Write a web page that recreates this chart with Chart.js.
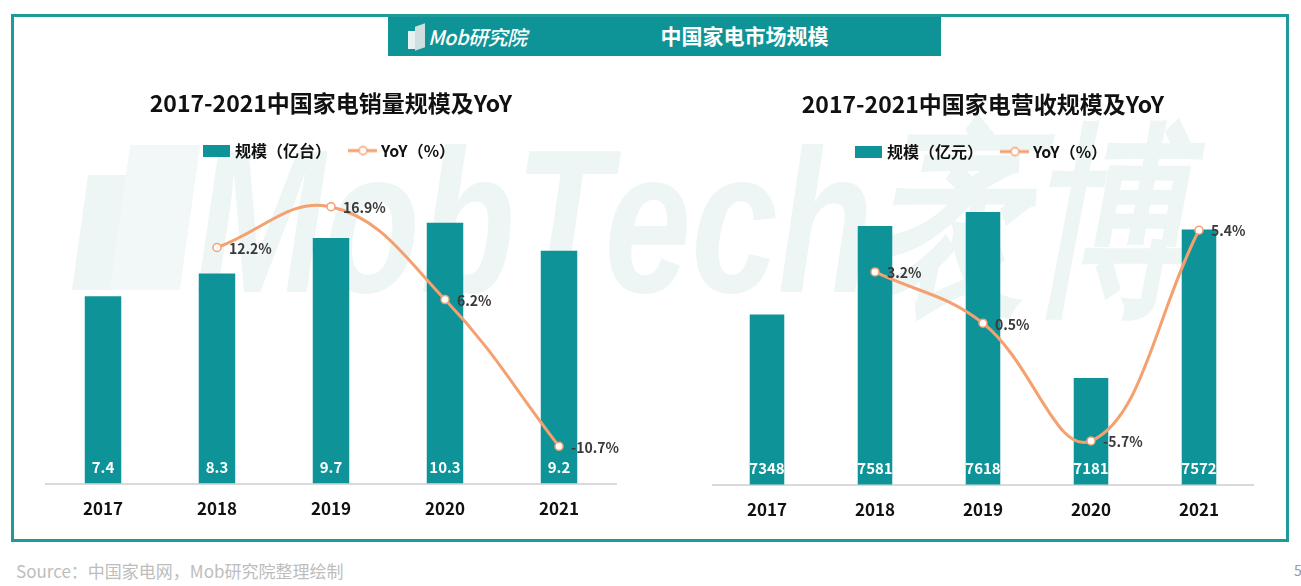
<!DOCTYPE html>
<html lang="zh">
<head>
<meta charset="UTF-8">
<title>中国家电市场规模</title>
<style>
  body { margin: 0; width: 1301px; height: 586px; background: #fff; position: relative; overflow: hidden;
         font-family: "Noto Sans CJK SC", "Noto Sans", sans-serif; }
  .frame { position: absolute; left: 11px; top: 14px; width: 1278px; height: 528px; box-sizing: border-box;
           border: 3px solid #1f9a9c; }
  .banner { position: absolute; left: 388px; top: 17px; width: 553px; height: 39px; background: #0e9497; }
  .logo { position: absolute; left: 40px; top: 5px; color: #fff; font-style: italic; font-size: 20px; font-weight: 500; letter-spacing: -0.5px; }
  .bld1 { position: absolute; left: 20px; top: 14px; width: 9px; height: 18px; background: #e9f0f0; }
  .bld2 { position: absolute; left: 27px; top: 8px; width: 10px; height: 24px; background: #cfdede; transform: skewY(-20deg); }
  .banner-title { position: absolute; left: 160px; right: 0; top: 3px; text-align: center; color: #fff; font-size: 21px; font-weight: 700; }
  .wm { position: absolute; left: 195px; top: 118px; font-family: "Liberation Sans", sans-serif; font-weight: 700; font-style: italic;
        font-size: 205px; line-height: 1; color: #edf6f5; transform: scaleX(0.76); transform-origin: left top; white-space: nowrap; }
  .wm-logo1 { position: absolute; left: 80px; top: 175px; width: 60px; height: 115px; background: #eef6f5; transform: skewX(-8deg); }
  .wm-logo2 { position: absolute; left: 120px; top: 145px; width: 70px; height: 145px; background: #f2f8f7; transform: skewX(-8deg); }
  canvas { position: absolute; }
  #c1 { left: 30px; top: 80px; }
  #c2 { left: 680px; top: 81px; }
  .source { position: absolute; left: 16px; top: 558px; font-size: 17px; color: #bdbdbd; }
  .page { position: absolute; left: 1294px; top: 560px; font-size: 14px; color: #9a9a9a; }
</style>
</head>
<body>
<div class="wm-logo1"></div>
<div class="wm-logo2"></div>
<div class="wm">MobTech袤博</div>
<div class="frame"></div>
<div class="banner">
  <div class="bld1"></div><div class="bld2"></div>
  <div class="logo">Mob研究院</div>
  <div class="banner-title">中国家电市场规模</div>
</div>
<canvas id="c1" width="600" height="458"></canvas>
<canvas id="c2" width="600" height="458"></canvas>
<div class="source">Source：中国家电网，Mob研究院整理绘制</div>
<div class="page">5</div>

<script src="https://cdn.jsdelivr.net/npm/chart.js"></script>
<script>
  // dados
  const years = ['2017', '2018', '2019', '2020', '2021'];
  const salesVolume = [7.4, 8.3, 9.7, 10.3, 9.2];        // 亿台
  const salesYoY = [null, 12.2, 16.9, 6.2, -10.7];        // %
  const revenue = [7348, 7581, 7618, 7181, 7572];         // 亿元
  const revenueYoY = [null, 3.2, 0.5, -5.7, 5.4];         // %

  const TEAL = '#0e9498';
  const ORANGE = '#f4a06f';
  const FONT = '"Noto Sans CJK SC", "Noto Sans", sans-serif';

  // ícones da legenda
  function barIcon() {
    const c = document.createElement('canvas');
    c.width = 27; c.height = 12;
    const g = c.getContext('2d');
    g.fillStyle = TEAL;
    g.fillRect(0, 0, 27, 12);
    return c;
  }
  function lineIcon() {
    const c = document.createElement('canvas');
    c.width = 29; c.height = 12;
    const g = c.getContext('2d');
    g.strokeStyle = ORANGE; g.lineWidth = 3;
    g.beginPath(); g.moveTo(0, 6); g.lineTo(29, 6); g.stroke();
    g.fillStyle = '#fff'; g.lineWidth = 1.5;
    g.beginPath(); g.arc(14.5, 6, 4, 0, Math.PI * 2); g.fill(); g.stroke();
    return c;
  }

  // rótulos de valores
  const valueLabels = {
    id: 'valueLabels',
    afterDatasetsDraw(chart) {
      const ctx = chart.ctx;
      ctx.save();
      const bars = chart.getDatasetMeta(0);
      const bottom = chart.chartArea.bottom;
      ctx.font = 'bold 15px ' + FONT;
      ctx.fillStyle = '#fff';
      ctx.textAlign = 'center';
      ctx.textBaseline = 'middle';
      bars.data.forEach((el, i) => {
        ctx.fillText(String(chart.data.datasets[0].data[i]), el.x, bottom - 16);
      });
      const line = chart.getDatasetMeta(1);
      ctx.font = 'bold 14px ' + FONT;
      ctx.fillStyle = '#3a3a3a';
      ctx.textAlign = 'left';
      line.data.forEach((el, i) => {
        const v = chart.data.datasets[1].data[i];
        if (v === null) return;
        ctx.fillText(v.toFixed(1) + '%', el.x + 12, el.y + 1);
      });
      ctx.restore();
    }
  };

  function makeChart(id, title, barName, bars, yoy, barMin, barMax, yoyMin, yoyMax, pad) {
    new Chart(document.getElementById(id), {
      type: 'bar',
      data: {
        labels: years,
        datasets: [
          {
            type: 'bar', label: barName, data: bars, backgroundColor: TEAL,
            categoryPercentage: 1, barPercentage: 0.32, yAxisID: 'y', order: 2
          },
          {
            type: 'line', label: 'YoY（%）', data: yoy, borderColor: ORANGE, borderWidth: 3,
            tension: 0.4, pointRadius: 4, pointBackgroundColor: '#fff', pointBorderColor: ORANGE,
            pointBorderWidth: 1.5, yAxisID: 'y1', order: 1, spanGaps: false
          }
        ]
      },
      options: {
        responsive: false,
        animation: false,
        layout: { padding: pad },
        plugins: {
          title: {
            display: true, text: title, color: '#111',
            font: { family: FONT, size: 23, weight: 'bold' },
            padding: { top: 9, bottom: 4 }
          },
          // espaço vazio entre a legenda e o gráfico
          subtitle: { display: true, text: '', weight: 500, font: { size: 1 }, padding: { top: 0, bottom: 10 } },
          legend: {
            labels: {
              usePointStyle: true, pointStyleWidth: 20, padding: 22, color: '#111',
              font: { family: FONT, size: 16, weight: 'bold' },
              generateLabels: () => [
                { text: barName, pointStyle: barIcon(), datasetIndex: 0, fontColor: '#111' },
                { text: 'YoY（%）', pointStyle: lineIcon(), datasetIndex: 1, fontColor: '#111' }
              ]
            }
          },
          tooltip: { enabled: false }
        },
        scales: {
          x: {
            grid: { display: false, drawTicks: false },
            border: { display: true, color: '#d9d9d9', width: 2 },
            ticks: { color: '#111', padding: 15, font: { family: FONT, size: 17, weight: 'bold' } }
          },
          y: { display: false, min: barMin, max: barMax },
          y1: { display: false, min: yoyMin, max: yoyMax }
        }
      },
      plugins: [valueLabels]
    });
  }

  makeChart('c1', '2017-2021中国家电销量规模及YoY', '规模（亿台）', salesVolume, salesYoY,
    0, 12, -15, 20, { left: 16, right: 14, top: 0, bottom: 4 });
  makeChart('c2', '2017-2021中国家电营收规模及YoY', '规模（亿元）', revenue, revenueYoY,
    6900, 7700, -8, 8, { left: 33, right: 27, top: 0, bottom: 4 });
</script>
</body>
</html>
